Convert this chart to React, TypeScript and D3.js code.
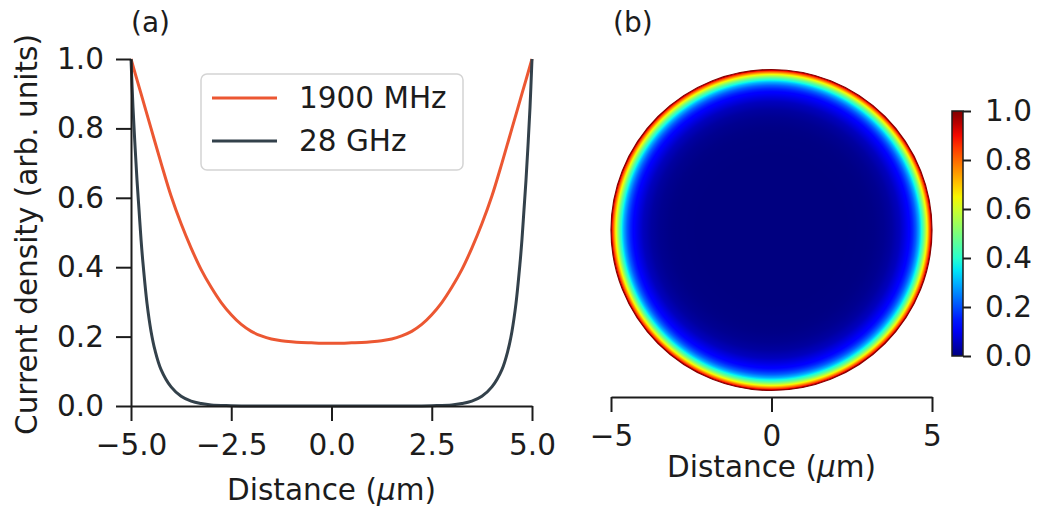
import React, { useEffect, useRef } from "react";
import * as d3 from "d3";

// 1900 MHz profile
const dist1900 = [
  -5, -4.75, -4.5, -4.25, -4, -3.75, -3.5, -3.25, -3, -2.75, -2.5, -2.25, -2, -1.75, -1.5, -1.25, -1, -0.75, -0.5,
  -0.25, 0, 0.25, 0.5, 0.75, 1, 1.25, 1.5, 1.75, 2, 2.25, 2.5, 2.75, 3, 3.25, 3.5, 3.75, 4, 4.25, 4.5, 4.75, 5,
];
const current1900 = [
  1.0, 0.9, 0.8, 0.7, 0.605, 0.525, 0.455, 0.393, 0.342, 0.298, 0.263, 0.235, 0.215, 0.202, 0.193, 0.188, 0.185, 0.183,
  0.182, 0.181, 0.181, 0.181, 0.182, 0.183, 0.185, 0.188, 0.193, 0.202, 0.215, 0.235, 0.263, 0.298, 0.342, 0.393,
  0.455, 0.525, 0.605, 0.7, 0.8, 0.9, 1.0,
];

// 28 GHz profile
const dist28 = [
  -5, -4.95, -4.9, -4.85, -4.8, -4.75, -4.7, -4.6, -4.5, -4.4, -4.25, -4, -3.75, -3.5, -3.25, -3, -2.5, -2, -1, 0, 1, 2,
  2.5, 3, 3.25, 3.5, 3.75, 4, 4.25, 4.4, 4.5, 4.6, 4.7, 4.75, 4.8, 4.85, 4.9, 4.95, 5,
];
const current28 = [
  1.0, 0.86, 0.75, 0.65, 0.565, 0.48, 0.41, 0.295, 0.215, 0.16, 0.105, 0.055, 0.028, 0.014, 0.007, 0.003, 0.001, 0, 0,
  0, 0, 0, 0.001, 0.003, 0.007, 0.014, 0.028, 0.055, 0.105, 0.16, 0.215, 0.295, 0.41, 0.48, 0.565, 0.65, 0.75, 0.86,
  1.0,
];

const seriesNames = ["1900 MHz", "28 GHz"];
const seriesColors = ["#ec5732", "#33414b"];

const xTicksA = [-5, -2.5, 0, 2.5, 5];
const yTicksA = [0, 0.2, 0.4, 0.6, 0.8, 1.0];
const xTicksB = [-5, 0, 5];
const cbarTicks = [0, 0.2, 0.4, 0.6, 0.8, 1.0];

const FONT = "DejaVu Sans, sans-serif";
const FS = 29.5;
const INK = "#1c1c1c";

// matplotlib "jet"
const jetR = d3.scaleLinear([0, 0.35, 0.66, 0.89, 1], [0, 0, 1, 1, 0.5]).clamp(true);
const jetG = d3.scaleLinear([0, 0.125, 0.375, 0.64, 0.91, 1], [0, 0, 1, 1, 0, 0]).clamp(true);
const jetB = d3.scaleLinear([0, 0.11, 0.34, 0.65, 1], [0.5, 1, 1, 0, 0]).clamp(true);
const jet = (v: number) => d3.rgb(jetR(v) * 255, jetG(v) * 255, jetB(v) * 255).formatHex();

export default function App() {
  const axARef = useRef<SVGGElement>(null);
  const ayARef = useRef<SVGGElement>(null);
  const axBRef = useRef<SVGGElement>(null);
  const cbRef = useRef<SVGGElement>(null);

  const xA = d3.scaleLinear([-5, 5], [131, 532]);
  const yA = d3.scaleLinear([0, 1], [406, 59]);
  const xB = d3.scaleLinear([-5, 5], [611, 932]);
  const yB = d3.scaleLinear([-5, 5], [390, 70]);
  const yC = d3.scaleLinear([0, 1], [356, 111]);

  const line = d3
    .line<[number, number]>()
    .x((d) => xA(d[0]))
    .y((d) => yA(d[1]))
    .curve(d3.curveCatmullRom.alpha(0.5));

  const series = [
    dist1900.map((x, i) => [x, current1900[i]] as [number, number]),
    dist28.map((x, i) => [x, current28[i]] as [number, number]),
  ];

  // radial stops for the disc, from centre outward, using the 28 GHz profile
  const half = dist28
    .map((x, i) => ({ r: Math.abs(x), v: current28[i] }))
    .filter((d, i) => dist28[i] <= 0)
    .sort((a, b) => a.r - b.r);
  const discStops: { off: number; color: string }[] = [];
  for (let i = 0; i < half.length - 1; i++) {
    const a = half[i], b = half[i + 1];
    for (let k = 0; k < 8; k++) {
      const t = k / 8;
      discStops.push({ off: (a.r + (b.r - a.r) * t) / 5, color: jet(a.v + (b.v - a.v) * t) });
    }
  }
  discStops.push({ off: 1, color: jet(half[half.length - 1].v) });

  const cbStops = d3.range(0, 1.0001, 0.05).map((v) => ({ off: v, color: jet(v) }));

  useEffect(() => {
    const style = (g: d3.Selection<SVGGElement, unknown, null, undefined>) => {
      g.selectAll("path").attr("stroke", INK).attr("stroke-width", 2);
      g.selectAll("line").attr("stroke", INK).attr("stroke-width", 2);
      g.selectAll("text").attr("fill", INK).style("font-family", FONT).style("font-size", `${FS}px`);
      g.attr("font-family", null).attr("font-size", null);
    };

    const ax = d3.select(axARef.current!);
    ax.selectAll("*").remove();
    ax.call(
      d3.axisBottom(xA).tickValues(xTicksA).tickFormat(d3.format(".1f")).tickSize(15).tickPadding(13).tickSizeOuter(0)
    );
    style(ax);

    const ay = d3.select(ayARef.current!);
    ay.selectAll("*").remove();
    ay.call(
      d3.axisLeft(yA).tickValues(yTicksA).tickFormat(d3.format(".1f")).tickSize(15).tickPadding(12).tickSizeOuter(0)
    );
    style(ay);

    const bx = d3.select(axBRef.current!);
    bx.selectAll("*").remove();
    bx.call(d3.axisBottom(xB).tickValues(xTicksB).tickFormat(d3.format("d")).tickSize(15).tickPadding(13).tickSizeOuter(0));
    style(bx);

    const cb = d3.select(cbRef.current!);
    cb.selectAll("*").remove();
    cb.call(d3.axisRight(yC).tickValues(cbarTicks).tickFormat(d3.format(".1f")).tickSize(8).tickPadding(14).tickSizeOuter(0));
    style(cb);
    cb.select("path.domain").remove();
  }, []);

  const cx = xB(0);
  const cy = yB(0);
  const rad = xB(5) - xB(0);

  return (
    <svg width={1037} height={507} style={{ position: "absolute", left: 0, top: 0, background: "#fff" }}>
      <defs>
        <radialGradient id="disc" gradientUnits="userSpaceOnUse" cx={cx} cy={cy} r={rad}>
          {discStops.map((s, i) => (
            <stop key={i} offset={s.off} stopColor={s.color} />
          ))}
        </radialGradient>
        <linearGradient id="cbar" x1="0" y1="1" x2="0" y2="0">
          {cbStops.map((s, i) => (
            <stop key={i} offset={s.off} stopColor={s.color} />
          ))}
        </linearGradient>
      </defs>

      {/* panel (a) */}
      <text x={131} y={22} dominantBaseline="central" fontFamily={FONT} fontSize={28} fill={INK}>
        (a)
      </text>
      {series.map((s, i) => (
        <path key={i} d={line(s) || ""} fill="none" stroke={seriesColors[i]} strokeWidth={3} />
      ))}
      <g ref={axARef} transform={`translate(0,${yA(0)})`} />
      <g ref={ayARef} transform={`translate(${xA(-5)},0)`} />
      <text
        transform={`translate(27,${(yA(0) + yA(1)) / 2 + 2}) rotate(-90)`}
        textAnchor="middle"
        dominantBaseline="central"
        fontFamily={FONT}
        fontSize={FS}
        fill={INK}
      >
        Current density (arb. units)
      </text>
      <text x={xA(0)} y={490} textAnchor="middle" dominantBaseline="central" fontFamily={FONT} fontSize={FS} fill={INK}>
        Distance (<tspan fontStyle="italic">μ</tspan>m)
      </text>

      {/* legend */}
      <rect x={201} y={74} width={262} height={96} rx={6} fill="#fff" fillOpacity={0.85} stroke="#d4d4d4" strokeWidth={1.5} />
      {seriesNames.map((name, i) => (
        <g key={name} transform={`translate(0,${98 + i * 43})`}>
          <line x1={212} x2={277} y1={0} y2={0} stroke={seriesColors[i]} strokeWidth={3} />
          <text x={299} y={0} dominantBaseline="central" fontFamily={FONT} fontSize={FS} fill={INK}>
            {name}
          </text>
        </g>
      ))}

      {/* panel (b) */}
      <text x={613} y={22} dominantBaseline="central" fontFamily={FONT} fontSize={28} fill={INK}>
        (b)
      </text>
      <circle cx={cx} cy={cy} r={rad} fill="url(#disc)" stroke="#8a0000" strokeWidth={1.2} />
      <g ref={axBRef} transform={`translate(0,397)`} />
      <text x={xB(0)} y={467} textAnchor="middle" dominantBaseline="central" fontFamily={FONT} fontSize={FS} fill={INK}>
        Distance (<tspan fontStyle="italic">μ</tspan>m)
      </text>

      {/* colorbar */}
      <rect x={952} y={yC(1)} width={11} height={yC(0) - yC(1)} fill="url(#cbar)" stroke={INK} strokeWidth={1.5} />
      <g ref={cbRef} transform={`translate(963,0)`} />
    </svg>
  );
}
